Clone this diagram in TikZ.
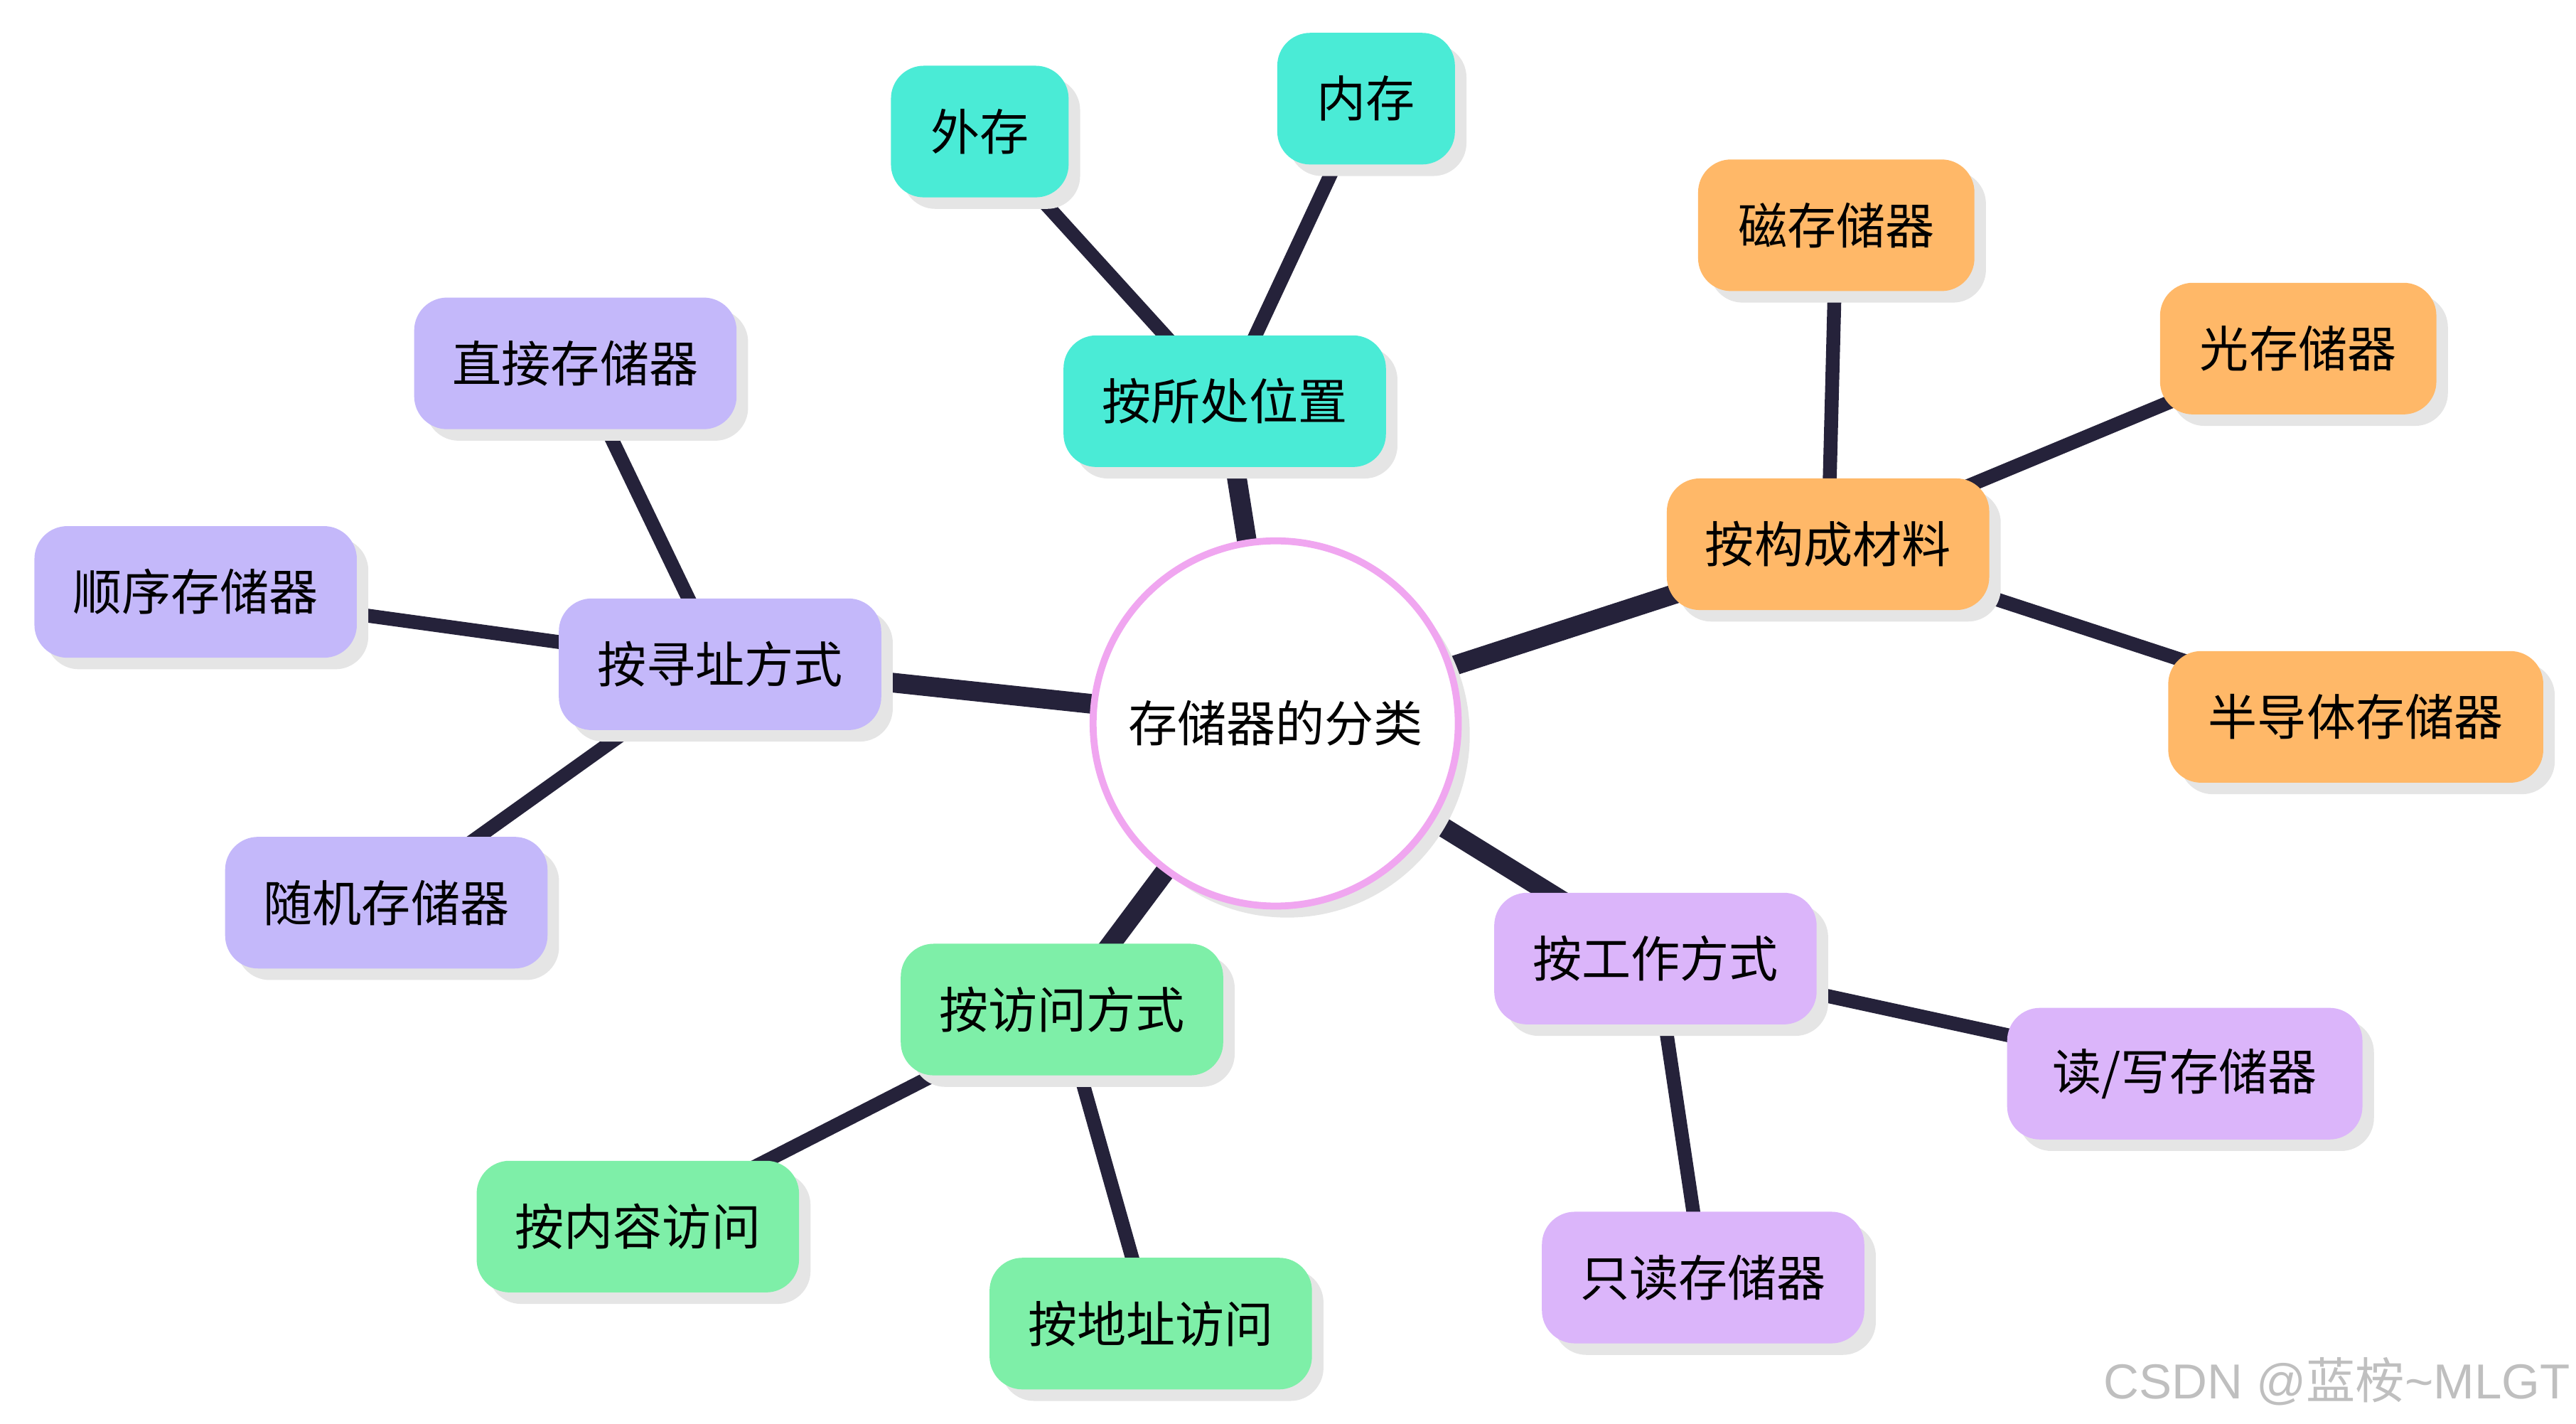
\documentclass[tikz,border=0pt]{standalone}
\usepackage{fontspec}
\newfontfamily\cjk{Noto Sans CJK SC}
\usetikzlibrary{shadows,backgrounds}
\definecolor{linkc}{HTML}{25223A}
\definecolor{tealc}{HTML}{4AEBD6}
\definecolor{orangec}{HTML}{FFB868}
\definecolor{lilacc}{HTML}{DBB5FA}
\definecolor{greenc}{HTML}{7EEFA8}
\definecolor{lavc}{HTML}{C4B8FA}
\definecolor{pinkc}{HTML}{F0A6F0}
\begin{document}
\begin{tikzpicture}
    [
      x=0.01cm, y=-0.01cm,
      font=\cjk\fontsize{8.5}{10}\selectfont,
      topic/.style={rounded corners=0.2cm, minimum height=0.8cm, inner xsep=0.2cm,
        drop shadow={shadow xshift=0.07cm, shadow yshift=-0.07cm, fill=black!10, opacity=1}},
      root/.style={circle, draw=pinkc, line width=1.2pt, fill=white, minimum size=2.22cm,
        drop shadow={shadow xshift=0.07cm, shadow yshift=-0.07cm, fill=black!10, opacity=1}},
      main/.style={linkc, line width=3.4pt},
      sub/.style={linkc, line width=2.4pt},
    ]
    \useasboundingbox (0,0) rectangle (1567,866);
    %
    \node [root] (root) at (776,440) {存储器的分类};

    % position
    \node [topic, fill=tealc, minimum width=1.96cm] (pos) at (745,244) {按所处位置};
    \node [topic, fill=tealc, minimum width=1.08cm] (ext) at (596,80) {外存};
    \node [topic, fill=tealc, minimum width=1.08cm] (mem) at (831,60) {内存};

    % material
    \node [topic, fill=orangec, minimum width=1.96cm] (mat) at (1112,331) {按构成材料};
    \node [topic, fill=orangec, minimum width=1.68cm] (mag) at (1117,137) {磁存储器};
    \node [topic, fill=orangec, minimum width=1.68cm] (opt) at (1398,212) {光存储器};
    \node [topic, fill=orangec, minimum width=2.28cm] (semi) at (1433,436) {半导体存储器};

    % working mode
    \node [topic, fill=lilacc, minimum width=1.96cm] (work) at (1007,583) {按工作方式};
    \node [topic, fill=lilacc, minimum width=2.16cm] (rw) at (1329,653) {读/写存储器};
    \node [topic, fill=lilacc, minimum width=1.96cm] (rom) at (1036,777) {只读存储器};

    % access mode
    \node [topic, fill=greenc, minimum width=1.96cm] (acc) at (646,614) {按访问方式};
    \node [topic, fill=greenc, minimum width=1.96cm] (cont) at (388,746) {按内容访问};
    \node [topic, fill=greenc, minimum width=1.96cm] (addr) at (700,805) {按地址访问};

    % addressing mode
    \node [topic, fill=lavc, minimum width=1.96cm] (addrm) at (438,404) {按寻址方式};
    \node [topic, fill=lavc, minimum width=1.96cm] (dir) at (350,221) {直接存储器};
    \node [topic, fill=lavc, minimum width=1.96cm] (seq) at (119,360) {顺序存储器};
    \node [topic, fill=lavc, minimum width=1.96cm] (rand) at (235,549) {随机存储器};

    \begin{scope}[on background layer]
      \foreach \n in {pos, mat, work, acc, addrm}
        \draw [main] (root.center) -- (\n.center);
      \foreach \a/\b in {pos/ext, pos/mem, mat/mag, mat/opt, mat/semi, work/rw, work/rom,
                         acc/cont, acc/addr, addrm/dir, addrm/seq, addrm/rand}
        \draw [sub] (\a.center) -- (\b.center);
    \end{scope}

    \node [anchor=east, inner sep=0pt, text=black!25,
      font=\fontspec{Liberation Sans}\fontsize{8.5}{10}\selectfont] (mark) at (1564,840)
      {CSDN @{\cjk 蓝桉}\textasciitilde MLGT};
  \end{tikzpicture}
\end{document}
